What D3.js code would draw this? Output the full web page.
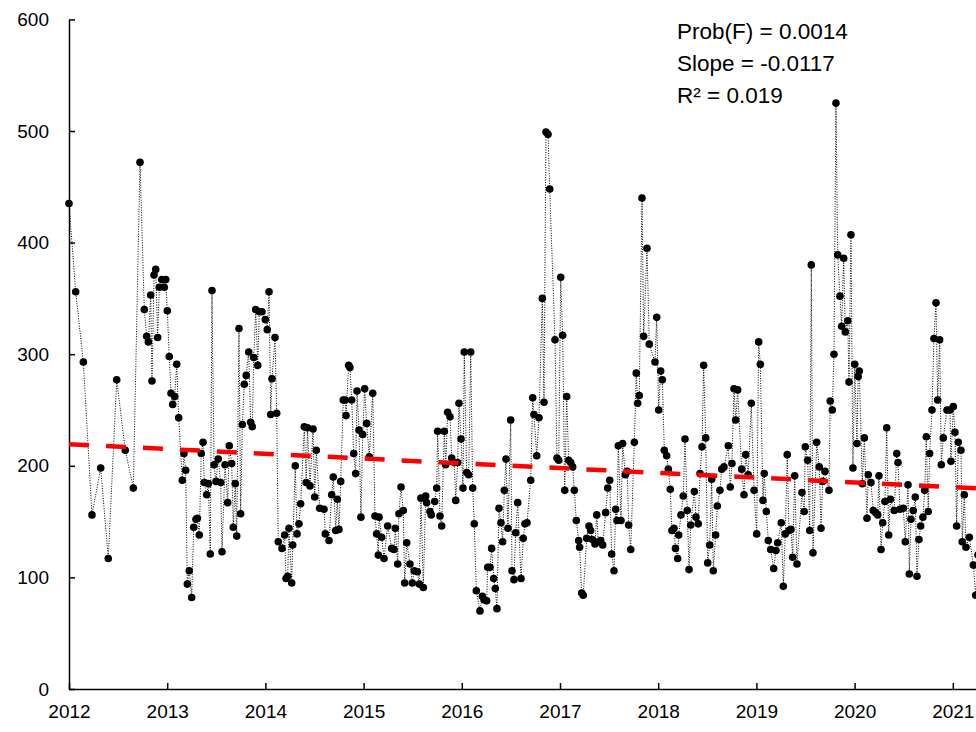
<!DOCTYPE html>
<html><head><meta charset="utf-8">
<script src="https://cdn.jsdelivr.net/npm/d3@7/dist/d3.min.js"></script>
<style>body{margin:0;background:#fff}svg{display:block}</style>
</head><body><div id="chart"></div>
<script>
const baseYear = 2012;
const yearOffsets = [0.000,0.068,0.146,0.234,0.323,0.400,0.486,0.573,0.655,0.723,0.767,0.791,0.808,0.832,0.845,0.866,0.883,0.903,0.920,0.944,0.970,0.985,
1.001,1.021,1.039,1.056,1.076,1.097,1.117,1.154,1.171,1.188,1.205,1.225,1.249,1.270,1.293,1.307,1.327,1.347,1.365,1.378,1.402,1.419,1.439,1.456,1.477,1.497,1.520,1.545,1.558,1.589,1.616,1.632,1.657,1.673,1.693,1.708,1.731,1.748,1.765,1.785,1.805,1.830,1.850,1.867,1.881,1.901,1.922,1.938,1.965,1.999,
2.019,2.037,2.054,2.067,2.098,2.115,2.131,2.169,2.196,2.210,2.227,2.240,2.268,2.278,2.304,2.322,2.342,2.359,2.396,2.416,2.429,2.454,2.485,2.502,2.518,2.553,2.597,2.610,2.648,2.675,2.691,2.716,2.732,2.749,2.767,2.793,2.811,2.821,2.848,2.861,2.879,2.899,2.919,2.933,2.953,2.973,2.991,
3.011,3.031,3.058,3.093,3.116,3.133,3.150,3.157,3.184,3.208,3.245,3.286,3.310,3.323,3.347,3.360,3.381,3.404,3.418,3.439,3.472,3.496,3.516,3.547,3.567,3.584,3.608,3.632,3.642,3.676,3.689,3.724,3.744,3.754,3.778,3.795,3.822,3.836,3.856,3.880,3.897,3.924,3.938,3.958,3.971,3.992,
4.012,4.025,4.050,4.070,4.091,4.111,4.127,4.148,4.185,4.209,4.226,4.253,4.264,4.287,4.304,4.325,4.341,4.358,4.379,4.399,4.416,4.433,4.450,4.470,4.498,4.511,4.531,4.549,4.569,4.603,4.626,4.643,4.664,4.702,4.722,4.735,4.763,4.786,4.820,4.837,4.857,4.878,4.895,4.949,4.969,4.987,
5.007,5.027,5.048,5.068,5.088,5.109,5.129,5.146,5.166,5.190,5.200,5.221,5.237,5.272,5.295,5.312,5.329,5.356,5.374,5.390,5.414,5.435,5.465,5.486,5.506,5.526,5.550,5.567,5.580,5.594,5.621,5.638,5.665,5.685,5.699,5.720,5.757,5.777,5.791,5.807,5.835,5.852,5.886,5.909,5.967,5.985,
6.005,6.025,6.042,6.062,6.086,6.103,6.123,6.140,6.161,6.176,6.198,6.209,6.232,6.255,6.273,6.296,6.314,6.331,6.368,6.385,6.408,6.426,6.446,6.463,6.484,6.504,6.524,6.545,6.561,6.585,6.602,6.629,6.647,6.670,6.714,6.734,6.751,6.772,6.789,6.809,6.850,6.874,6.891,6.917,6.948,6.976,
7.003,7.023,7.040,7.067,7.080,7.101,7.121,7.145,7.176,7.199,7.217,7.253,7.274,7.294,7.314,7.332,7.352,7.369,7.390,7.413,7.464,7.487,7.498,7.522,7.543,7.559,7.576,7.614,7.640,7.658,7.675,7.698,7.739,7.752,7.773,7.790,7.810,7.828,7.851,7.868,7.889,7.905,7.930,7.943,7.963,7.983,
8.001,8.024,8.036,8.048,8.078,8.099,8.126,8.139,8.167,8.190,8.215,8.235,8.248,8.269,8.286,8.309,8.327,8.347,8.365,8.404,8.429,8.442,8.462,8.496,8.516,8.544,8.557,8.574,8.597,8.618,8.635,8.655,8.673,8.696,8.714,8.730,8.750,8.764,8.788,8.808,8.829,8.846,8.866,8.883,8.903,8.941,8.971,8.981,
9.005,9.022,9.039,9.056,9.083,9.096,9.117,9.134,9.168,9.209,9.233,9.256];
const values = [435,356,293,156,198,117,277,214,180,472,340,316,311,353,276,371,376,315,360,367,360,367,
339,298,265,255,262,291,243,187,211,196,94,106,82,145,152,153,138,211,221,185,174,184,121,357,201,186,206,185,123,201,167,218,202,145,184,137,323,157,237,273,281,302,239,235,297,340,290,338,338,331,
322,356,246,278,315,247,132,126,138,99,101,144,95,129,200,139,148,166,235,185,234,182,233,172,214,162,161,139,133,174,190,142,170,143,186,259,259,245,290,288,259,211,193,267,232,154,228,
269,238,208,265,155,139,120,154,136,117,146,126,125,144,112,157,181,160,95,131,112,95,106,105,94,171,91,173,167,159,156,168,180,231,155,146,231,201,248,244,207,203,169,203,256,224,
180,302,194,192,302,180,148,88,70,83,80,79,109,109,126,99,90,72,162,149,132,178,206,144,241,106,98,140,167,99,135,148,149,187,261,246,209,243,350,257,499,497,448,313,207,205,
369,317,178,262,205,203,199,178,151,133,127,86,84,135,146,142,134,130,156,132,133,129,158,180,187,121,106,161,151,218,151,220,192,195,147,125,221,283,256,263,440,316,395,309,293,333,
250,285,277,214,209,197,179,142,144,126,117,138,156,173,224,160,107,147,177,154,148,193,217,290,225,113,129,188,106,138,164,178,197,199,218,181,202,269,241,268,197,174,210,192,256,178,
139,311,291,169,193,159,133,125,108,124,131,149,92,139,210,142,143,118,191,112,176,159,217,205,142,380,122,221,199,144,186,195,178,258,250,300,525,389,352,325,386,320,330,275,407,198,
291,220,280,285,184,225,153,192,185,160,158,156,191,125,149,168,234,138,170,160,211,203,161,162,132,183,103,152,160,172,101,134,146,154,178,226,159,211,250,314,346,259,313,201,225,250,250,204,
253,230,146,221,214,132,174,127,136,111,84,120];
const xTicks = [2012,2013,2014,2015,2016,2017,2018,2019,2020,2021,2022];
const yTicks = [0,100,200,300,400,500,600];
const trendIntercept = 219.3;      // value at start of 2012
const trendSlopePerDay = -0.0117;
const statLines = ["Prob(F) = 0.0014", "Slope = -0.0117", "R\u00B2 = 0.019"];

const W = 976, H = 732;
const FONT = "'Liberation Sans', Arial, sans-serif";
const svg = d3.select("#chart").append("svg").attr("width", W).attr("height", H)
  .style("font-family", FONT);

const x = d3.scaleLinear().domain([2012, 2022]).range([69, 69 + 982]);
const y = d3.scaleLinear().domain([0, 600]).range([689, 19.4]);

const data = yearOffsets.map((o, i) => ({t: baseYear + o, v: values[i]}));

// axes
const yAxis = svg.append("g").attr("transform", "translate(69,0)")
  .call(d3.axisLeft(y).tickValues(yTicks).tickSizeInner(-6).tickSizeOuter(0).tickPadding(20));
yAxis.select(".domain").attr("stroke", "#000").attr("stroke-width", 1.5);
yAxis.selectAll(".tick line").attr("stroke", "#000").attr("stroke-width", 1.5);
yAxis.selectAll("text").attr("font-size", 19).attr("fill", "#000").attr("font-family", FONT);

const xAxis = svg.append("g").attr("transform", "translate(0,689)")
  .call(d3.axisBottom(x).tickValues(xTicks).tickFormat(d3.format("d")).tickSizeInner(-6).tickSizeOuter(0).tickPadding(16));
xAxis.select(".domain").attr("stroke", "#000").attr("stroke-width", 1.5);
xAxis.selectAll(".tick line").attr("stroke", "#000").attr("stroke-width", 1.5);
xAxis.selectAll("text").attr("font-size", 19).attr("fill", "#000").attr("font-family", FONT);

// dotted connecting line
svg.append("path").datum(data)
  .attr("fill", "none").attr("stroke", "#000").attr("stroke-width", 1)
  .attr("stroke-dasharray", "1,1.5")
  .attr("d", d3.line().x(d => x(d.t)).y(d => y(d.v)));

// markers
svg.append("g").selectAll("circle").data(data).join("circle")
  .attr("cx", d => x(d.t)).attr("cy", d => y(d.v)).attr("r", 3.8).attr("fill", "#000");

// trend line
const trendYears = [2012, 2022];
const trend = trendYears.map(t => ({t, v: trendIntercept + trendSlopePerDay * 365.25 * (t - 2012)}));
svg.append("path").datum(trend)
  .attr("fill", "none").attr("stroke", "#ff0000").attr("stroke-width", 4.5)
  .attr("stroke-dasharray", "20,17")
  .attr("d", d3.line().x(d => x(d.t)).y(d => y(d.v)));

// annotation
svg.append("g").selectAll("text").data(statLines).join("text")
  .attr("x", 677).attr("y", (d, i) => 39 + i * 32)
  .attr("font-size", 22.5).attr("fill", "#000").text(d => d);
</script></body></html>
